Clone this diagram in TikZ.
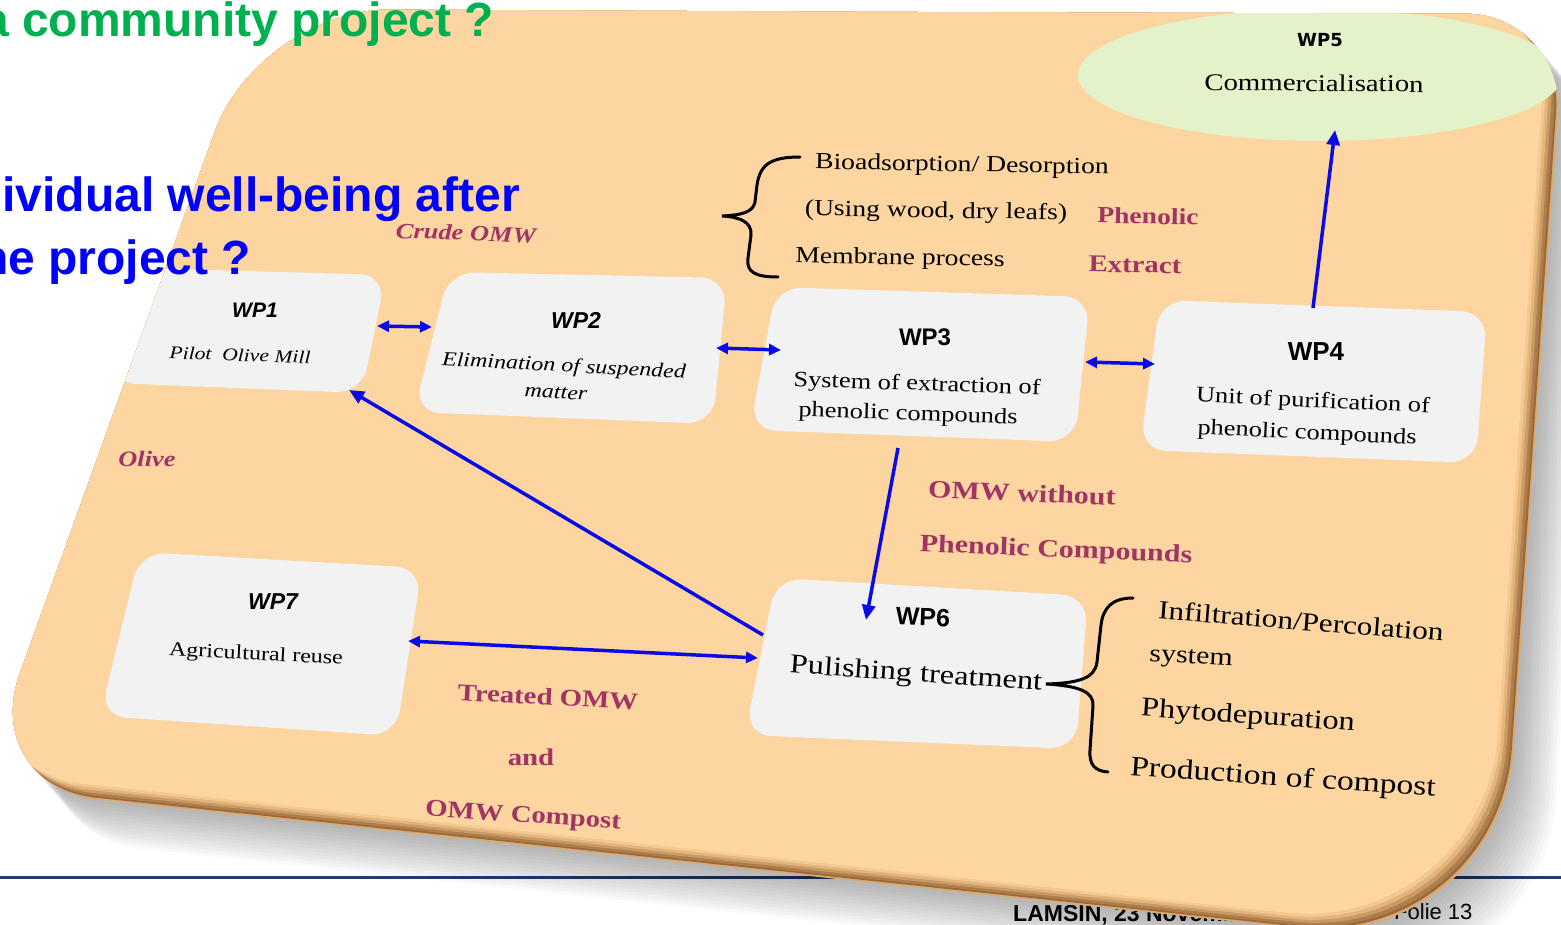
\documentclass[tikz,border=0pt]{standalone}
\usepackage{fontspec}
\setmainfont{Liberation Serif}
\newfontfamily\tms[FakeStretch=1.2]{Liberation Serif}
\newfontfamily\arl{Liberation Sans}
\newfontfamily\vrd{DejaVu Sans}
\usetikzlibrary{arrows.meta,calc,shapes.geometric}
\definecolor{peach}{HTML}{FCD5A0}
\definecolor{wpgreen}{HTML}{E3F2C8}
\definecolor{boxgray}{HTML}{F2F2F2}
\definecolor{labelred}{HTML}{A03565}
\definecolor{arrowblue}{HTML}{0A0AE6}
\definecolor{titlegreen}{HTML}{00B050}
\definecolor{footnavy}{HTML}{1F3F6F}
\definecolor{bevA}{HTML}{D9AA72}
\definecolor{bevB}{HTML}{9A6A3A}
\definecolor{bevC}{HTML}{AD7D4B}
\definecolor{bevD}{HTML}{C99A63}
\definecolor{bevE}{HTML}{E2B47E}
\definecolor{bevF}{HTML}{F3C891}
\newcommand\slideoutline{(900,12) [rounded corners=100pt] -- (1565,14) [rounded corners=200pt] -- (1500,950) [rounded corners=120pt] -- (-21,787) [rounded corners=130pt] -- (259,9) -- cycle}
\newcommand\wpbox[4]{\fill[boxfill] ($(#1)!0.5!(#2)$) -- (#2) -- (#3) -- (#4) -- (#1) -- cycle;}
\tikzset{
  boxfill/.style={fill=boxgray, rounded corners=26pt},
  arr/.style={draw=arrowblue, line width=3.5pt, -{Triangle[length=15pt,width=13pt]}},
  dbl/.style={draw=arrowblue, line width=3.5pt, {Triangle[length=12pt,width=11pt]}-{Triangle[length=12pt,width=11pt]}},
  brace/.style={draw=black, line width=3pt, line cap=round},
  wplab/.style={inner sep=0pt, font=\arl\bfseries\fontsize{#1}{#1}\selectfont},
  wplabit/.style={inner sep=0pt, font=\arl\bfseries\itshape\fontsize{#1}{#1}\selectfont},
  desc/.style={inner sep=0pt, font=\tms\fontsize{#1}{#1}\selectfont},
  descit/.style={inner sep=0pt, font=\tms\itshape\fontsize{#1}{#1}\selectfont},
  lbl/.style={inner sep=0pt, text=labelred, font=\tms\bfseries\fontsize{#1}{#1}\selectfont},
  lblit/.style={inner sep=0pt, text=labelred, font=\tms\bfseries\itshape\fontsize{#1}{#1}\selectfont},
  title/.style={anchor=base west, inner sep=0pt, font=\arl\bfseries\fontsize{48}{58}\selectfont}
}
\begin{document}
\begin{tikzpicture}[x=1pt,y=-1pt]
\useasboundingbox (0,0) rectangle (1561,925);
% footer
\coordinate (fl) at (0,877);
\coordinate (fr) at (1561,877);
\draw[footnavy, line width=3pt] (fl) -- (fr);
\node[anchor=base west, inner sep=0pt, font=\arl\bfseries\fontsize{23}{26}\selectfont] (foot1) at (1013,921) {LAMSIN, 23 Novembre};
\node[anchor=base west, inner sep=0pt, font=\arl\fontsize{22}{26}\selectfont] (foot2) at (1394,919) {Folie 13};
% shadow
\foreach \k in {1,...,14} {
  \fill[black, opacity=0.025, shift={(3*\k,3.5*\k)}] \slideoutline;
}
% slide panel with bevel
\begin{scope}
\clip \slideoutline;
\fill[bevA] \slideoutline;
\fill[bevB, shift={(-2,-2)}] \slideoutline;
\fill[bevC, shift={(-4,-4)}] \slideoutline;
\fill[bevD, shift={(-7,-7)}] \slideoutline;
\fill[bevE, shift={(-10,-10)}] \slideoutline;
\fill[bevF, shift={(-13,-13)}] \slideoutline;
\fill[peach, shift={(-16,-16)}] \slideoutline;
% WP5 ellipse
\node[ellipse, fill=wpgreen, minimum width=484pt, minimum height=132pt, inner sep=0pt] (wp5) at (1320,75) {};
% boxes
\coordinate (b1a) at (140,268); \coordinate (b1b) at (386,275); \coordinate (b1c) at (362,393); \coordinate (b1d) at (110,383);
\coordinate (b2a) at (449,272); \coordinate (b2b) at (727,278); \coordinate (b2c) at (713,424); \coordinate (b2d) at (414,412);
\coordinate (b3a) at (776,287); \coordinate (b3b) at (1090,297); \coordinate (b3c) at (1075,442); \coordinate (b3d) at (750,430);
\coordinate (b4a) at (1160,300); \coordinate (b4b) at (1487,312); \coordinate (b4c) at (1476,463); \coordinate (b4d) at (1140,450);
\coordinate (b6a) at (776,578); \coordinate (b6b) at (1088,596); \coordinate (b6c) at (1076,749); \coordinate (b6d) at (745,735);
\coordinate (b7a) at (140,552); \coordinate (b7b) at (422,568); \coordinate (b7c) at (396,736); \coordinate (b7d) at (100,716);
\wpbox{b1a}{b1b}{b1c}{b1d}
\wpbox{b2a}{b2b}{b2c}{b2d}
\wpbox{b3a}{b3b}{b3c}{b3d}
\wpbox{b4a}{b4b}{b4c}{b4d}
\wpbox{b6a}{b6b}{b6c}{b6d}
\wpbox{b7a}{b7b}{b7c}{b7d}
\end{scope}
% box texts
\node[wplabit=21] (wp1) at (255,310) {WP1};
\node[descit=18, rotate=-2] (wp1t) at (240,355) {Pilot\ \ Olive Mill};
\node[wplabit=23] (wp2) at (576,320) {WP2};
\node[descit=20, rotate=-3] (wp2t) at (564,367) {Elimination of suspended};
\node[descit=20, rotate=-3] (wp2u) at (556,393) {matter};
\node[wplab=24] (wp3) at (925,337) {WP3};
\node[desc=22, rotate=-2] (wp3t) at (917,385) {System of extraction of};
\node[desc=22, rotate=-2] (wp3u) at (908,415) {phenolic compounds};
\node[wplab=26] (wp4) at (1316,352) {WP4};
\node[desc=22, rotate=-2.7] (wp4t) at (1313,402) {Unit of purification of};
\node[desc=22, rotate=-2.7] (wp4u) at (1307,434) {phenolic compounds};
\node[inner sep=0pt, font=\vrd\bfseries\fontsize{18}{18}\selectfont] (wp5l) at (1320,40) {WP5};
\node[desc=24, rotate=-0.5] (wp5t) at (1314,83) {Commercialisation};
\node[wplab=25, rotate=-2] (wp6) at (923,617) {WP6};
\node[desc=27, rotate=-4] (wp6t) at (916,675) {Pulishing treatment};
\node[wplabit=23] (wp7) at (273,602) {WP7};
\node[desc=20, rotate=-3] (wp7t) at (256,655) {Agricultural reuse};
% brace texts
\node[desc=23, rotate=-1] (br1a) at (962,166) {Bioadsorption/ Desorption};
\node[desc=23, rotate=-1] (br1b) at (936,212) {(Using wood, dry leafs)};
\node[desc=23, rotate=-1] (br1c) at (900,259) {Membrane process};
\node[desc=26, rotate=-4.5] (br2a) at (1301,621) {Infiltration/Percolation};
\node[desc=25, rotate=-3] (br2b) at (1191,659) {system};
\node[desc=27, rotate=-4] (br2c) at (1248,717) {Phytodepuration};
\node[desc=28, rotate=-4] (br2d) at (1283,779) {Production of compost};
% coloured labels
\node[lblit=22, rotate=-2] (crude) at (466,233) {Crude OMW};
\node[lblit=22] (olive) at (147,459) {Olive};
\node[lbl=23, rotate=-1] (phen) at (1148,216) {Phenolic};
\node[lbl=24, rotate=-1] (extr) at (1135,265) {Extract};
\node[lbl=25, rotate=-2.4] (omw1) at (1022,493) {OMW without};
\node[lbl=25, rotate=-2.3] (omw2) at (1056,551) {Phenolic Compounds};
\node[lbl=24, rotate=-3] (trt1) at (548,697) {Treated OMW};
\node[lbl=24] (trt2) at (531,757) {and};
\node[lbl=24, rotate=-4] (trt3) at (523,817) {OMW Compost};
% braces
\coordinate (ba) at (800,157); \coordinate (bb) at (722,216); \coordinate (bc) at (778,277);
\draw[brace] (ba) .. controls (770,157) and (760,165) .. (757,185) -- (755,202) .. controls (753,213) and (740,215) .. (bb) .. controls (740,217) and (752,222) .. (751,235) -- (748,258) .. controls (746,272) and (755,277) .. (bc);
\coordinate (bd) at (1133,598); \coordinate (be) at (1046,684); \coordinate (bf) at (1108,772);
\draw[brace] (bd) .. controls (1112,598) and (1103,608) .. (1101,625) -- (1097,662) .. controls (1095,678) and (1080,683) .. (be) .. controls (1080,686) and (1094,692) .. (1093,706) -- (1090,750) .. controls (1089,765) and (1095,771) .. (bf);
% arrows
\coordinate (a1) at (377,326); \coordinate (a2) at (432,327);
\coordinate (c1) at (716,348); \coordinate (c2) at (781,350);
\coordinate (d1) at (1085,362); \coordinate (d2) at (1155,364);
\coordinate (e1) at (1313,308); \coordinate (e2) at (1335,130);
\coordinate (f1) at (898,448); \coordinate (f2) at (866,620);
\coordinate (g1) at (763,635); \coordinate (g2) at (349,390);
\coordinate (h1) at (408,641); \coordinate (h2) at (758,658);
\draw[dbl] (a1) -- (a2);
\draw[dbl] (c1) -- (c2);
\draw[dbl] (d1) -- (d2);
\draw[arr] (e1) -- (e2);
\draw[arr] (f1) -- (f2);
\draw[arr] (g1) -- (g2);
\draw[dbl] (h1) -- (h2);
% titles
\node[title, text=titlegreen] (t1) at (-18,37) {a community project ?};
\node[title, text=blue] (t2) at (-27,212) {dividual well-being after};
\node[title, text=blue] (t3) at (-21,275) {he project ?};
\end{tikzpicture}
\end{document}
